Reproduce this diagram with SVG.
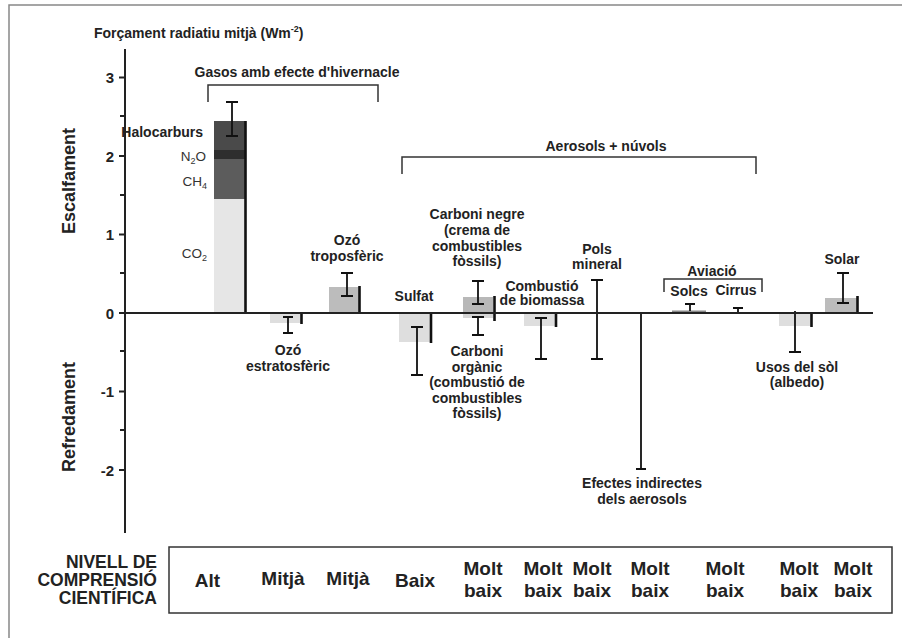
<svg xmlns="http://www.w3.org/2000/svg" width="902" height="638" viewBox="0 0 902 638">
<style>
text{font-family:"Liberation Sans",Arial,Helvetica,sans-serif;fill:#222}
.b{font-weight:bold;font-size:14px;text-anchor:middle}
.g{font-size:13.5px;text-anchor:end;fill:#333}
.t{font-weight:bold;font-size:15px;text-anchor:end}
.lv{font-weight:bold;font-size:19px;text-anchor:middle}
.nl{font-weight:bold;font-size:17.5px;text-anchor:end}
.ax{font-weight:bold;font-size:18px;text-anchor:middle}
.err{stroke:#111;stroke-width:1.8;fill:none}
.edge{stroke:#111;stroke-width:2.6}
.brk{stroke:#333;stroke-width:1.5;fill:none}
.lt{fill:#dedede}
.md{fill:#bcbcbc}
</style>
<rect width="902" height="638" fill="#fff"/>
<path d="M9 638V5H902" stroke="#888" stroke-width="1.5" fill="none"/>

<g id="title">
<text x="94" y="38" font-weight="bold" font-size="14">Forçament radiatiu mitjà (Wm<tspan font-size="9" dy="-6">-2</tspan><tspan dy="6">)</tspan></text>
</g>

<g id="axis">
<path d="M125 49V533" stroke="#222" stroke-width="2"/>
<path d="M119 77.5h6M120 116h5M119 156h6M120 195h5M119 234.5h6M120 273h5M119 313h6M120 351h5M119 391.5h6M120 430h5M119 470h6" stroke="#222" stroke-width="1.8"/>
<text class="t" x="114" y="83">3</text>
<text class="t" x="114" y="161.5">2</text>
<text class="t" x="114" y="240">1</text>
<text class="t" x="114" y="319">0</text>
<text class="t" x="114" y="397">-1</text>
<text class="t" x="114" y="475.5">-2</text>
<text class="ax" transform="translate(75,181) rotate(-90)">Escalfament</text>
<text class="ax" transform="translate(75,417) rotate(-90)">Refredament</text>
</g>

<g id="brackets">
<path class="brk" d="M208 102V85H378V102"/>
<text class="b" x="297" y="77">Gasos amb efecte d'hivernacle</text>
<path class="brk" d="M402 174V157H756V174"/>
<text class="b" x="606" y="150.5">Aerosols + núvols</text>
<path class="brk" d="M664 292V279H762V292" stroke-width="1.2"/>
<text class="b" x="712" y="276">Aviació</text>
</g>

<g id="ghg">
<rect x="214" y="199" width="31" height="114" fill="#e6e6e6"/>
<rect x="214" y="159" width="31" height="40" fill="#5c5c5c"/>
<rect x="214" y="150" width="31" height="9" fill="#2e2e2e"/>
<rect x="214" y="121" width="31" height="29" fill="#4a4a4a"/>
<path class="edge" d="M245.5 121V313"/>
<path class="err" d="M232 102V136M226 102h12M226 136h12"/>
<text class="b" x="203" y="137" style="text-anchor:end">Halocarburs</text>
<text class="g" x="206" y="161">N<tspan font-size="9" dy="3">2</tspan><tspan dy="-3">O</tspan></text>
<text class="g" x="207" y="186">CH<tspan font-size="9" dy="3">4</tspan></text>
<text class="g" x="207" y="258">CO<tspan font-size="9" dy="3">2</tspan></text>
</g>

<g id="ozo-estratosferic">
<rect class="lt" x="270" y="313" width="31" height="10"/>
<path class="edge" d="M301.5 313V324"/>
<path class="err" d="M288 317V333M283 317h10M283 333h10"/>
<text class="b" x="288" y="355">Ozó</text>
<text class="b" x="288" y="371">estratosfèric</text>
</g>

<g id="ozo-troposferic">
<rect class="md" x="329" y="287" width="30" height="26"/>
<path class="edge" d="M359.5 286V313"/>
<path class="err" d="M347 273V296M341 273h12M341 296h12"/>
<text class="b" x="347" y="245">Ozó</text>
<text class="b" x="347" y="261">troposfèric</text>
</g>

<g id="sulfat">
<rect class="lt" x="399" y="313" width="31" height="29"/>
<path class="edge" d="M431 313V343"/>
<path class="err" d="M417 327V375M411 327h12M411 375h12"/>
<text class="b" x="414" y="301">Sulfat</text>
</g>

<g id="carboni">
<rect x="463" y="297" width="30" height="16" fill="#b8b8b8"/>
<rect x="463" y="313" width="30" height="5" fill="#d6d6d6"/>
<path class="edge" d="M494.5 296V321"/>
<path class="err" d="M478 281V304M472 281h12M472 304h12"/>
<path class="err" d="M478 317V335M472 317h12M472 335h12"/>
<text class="b" x="477" y="219">Carboni negre</text>
<text class="b" x="477" y="234.5">(crema de</text>
<text class="b" x="477" y="250.5">combustibles</text>
<text class="b" x="477" y="265.5">fòssils)</text>
<text class="b" x="477" y="356">Carboni</text>
<text class="b" x="477" y="371.5">orgànic</text>
<text class="b" x="477" y="387">(combustió de</text>
<text class="b" x="477" y="402.5">combustibles</text>
<text class="b" x="477" y="418">fòssils)</text>
</g>

<g id="biomassa">
<rect class="lt" x="524" y="313" width="31" height="13"/>
<path class="edge" d="M556 313V327"/>
<path class="err" d="M541 318V359M535 318h12M535 359h12"/>
<text class="b" x="542" y="290.5">Combustió</text>
<text class="b" x="542" y="305">de biomassa</text>
</g>

<g id="pols">
<path class="err" d="M597 280V359M591 280h12M591 359h12"/>
<text class="b" x="597" y="254">Pols</text>
<text class="b" x="597" y="269">mineral</text>
</g>

<g id="efectes">
<path class="err" d="M641 313V469M636 469h10"/>
<text class="b" x="642" y="488">Efectes indirectes</text>
<text class="b" x="642" y="504">dels aerosols</text>
</g>

<g id="aviacio">
<rect x="672" y="310.5" width="34" height="2.5" fill="#888"/>
<path class="err" d="M690 304V311M685 304h10"/>
<path class="err" d="M738 308V313M733 308h10"/>
<text class="b" x="689" y="296">Solcs</text>
<text class="b" x="736" y="295">Cirrus</text>
</g>

<g id="usos">
<rect class="lt" x="779" y="313" width="32" height="13"/>
<path class="edge" d="M811.5 313V327"/>
<path class="err" d="M795 311V352M789 352h12"/>
<text class="b" x="797" y="372">Usos del sòl</text>
<text class="b" x="797" y="387">(albedo)</text>
</g>

<g id="solar">
<rect class="md" x="825" y="298" width="32" height="15"/>
<path class="edge" d="M857.5 296V313"/>
<path class="err" d="M843 273V303M837 273h12M837 303h12"/>
<text class="b" x="842" y="264">Solar</text>
</g>

<g id="zero-line">
<path d="M125 313H873" stroke="#222" stroke-width="2.2"/>
</g>

<g id="nivell">
<text class="nl" x="157" y="568">NIVELL DE</text>
<text class="nl" x="157" y="586">COMPRENSIÓ</text>
<text class="nl" x="157" y="604">CIENTÍFICA</text>
<rect x="169" y="547" width="723" height="66" fill="none" stroke="#333" stroke-width="1.5"/>
<text class="lv" x="207.5" y="587">Alt</text>
<text class="lv" x="283" y="585">Mitjà</text>
<text class="lv" x="348" y="585">Mitjà</text>
<text class="lv" x="415" y="587">Baix</text>
<text class="lv" x="483" y="575">Molt</text><text class="lv" x="483" y="597">baix</text>
<text class="lv" x="543" y="575">Molt</text><text class="lv" x="543" y="597">baix</text>
<text class="lv" x="592" y="575">Molt</text><text class="lv" x="592" y="597">baix</text>
<text class="lv" x="650" y="575">Molt</text><text class="lv" x="650" y="597">baix</text>
<text class="lv" x="725" y="575">Molt</text><text class="lv" x="725" y="597">baix</text>
<text class="lv" x="799" y="575">Molt</text><text class="lv" x="799" y="597">baix</text>
<text class="lv" x="853" y="575">Molt</text><text class="lv" x="853" y="597">baix</text>
</g>
</svg>
